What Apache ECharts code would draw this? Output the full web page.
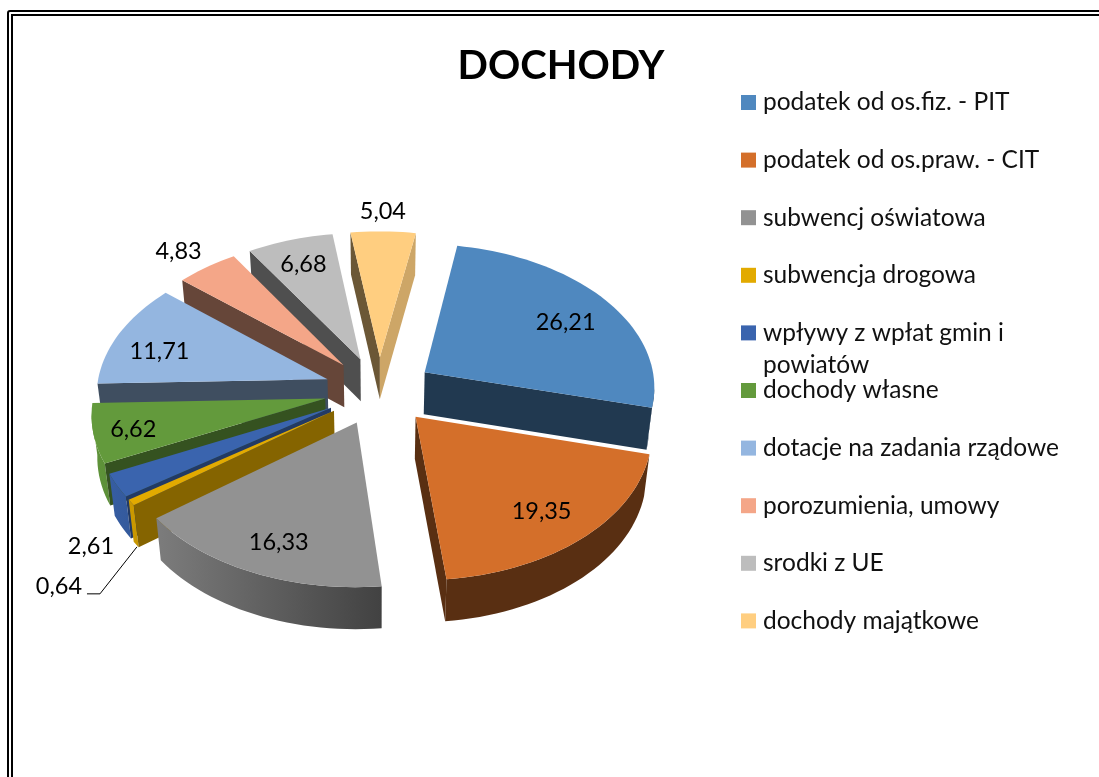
<!DOCTYPE html>
<html>
<head>
<meta charset="utf-8">
<style>
  html, body { margin: 0; padding: 0; background: #fff; }
  #chart { width: 1099px; height: 777px; }
</style>
<script src="https://cdn.jsdelivr.net/npm/echarts@6/dist/echarts.min.js"></script>
</head>
<body>
<div id="chart"></div>
<script>
const names = [
  'podatek od os.fiz. - PIT',
  'podatek od os.praw. - CIT',
  'subwencj oświatowa',
  'subwencja drogowa',
  'wpływy z wpłat gmin i\npowiatów',
  'dochody własne',
  'dotacje na zadania rządowe',
  'porozumienia, umowy',
  'srodki z UE',
  'dochody majątkowe'
];
const values = [26.21, 19.35, 16.33, 0.64, 2.61, 6.62, 11.71, 4.83, 6.68, 5.04];
const colors = ['#4f88bf', '#d46f2a', '#929292', '#e2aa00', '#3a64ae', '#639a3c', '#94b6e0', '#f4a688', '#bdbdbd', '#ffce80'];

// label position relative to the tip of each slice, in px
const labelOffsets = [[141, -50], [126, 95], [-78, 120], [-275, 176], [-240, 139], [-192, 31], [-168, -28], [-165, -114], [-57, -95], [3, -146]];

// fake 3D pie
const cx = 379, cy = 390.5, radius = 231, explode = 55;
const tilt = 0.62, persp = 0.0004, depth = 42, bottomScale = 0.98, firstAngle = 10;
const total = values.reduce((a, b) => a + b, 0);
const font = 'Lato, sans-serif';

function project(x, y) {
  const s = 1 / (1 + persp * y);
  return [cx + x * s, cy - tilt * y * s];
}

function shade(hex, f) {
  const n = parseInt(hex.slice(1), 16);
  const c = [n >> 16, (n >> 8) & 255, n & 255].map(v => Math.round(v * f));
  return `rgb(${c[0]},${c[1]},${c[2]})`;
}

function sliceAngles(i) {
  const before = values.slice(0, i).reduce((a, b) => a + b, 0);
  const a1 = firstAngle + before / total * 360;
  return [a1, a1 + values[i] / total * 360];
}

function sliceGeometry(i) {
  const [a1, a2] = sliceAngles(i);
  const mid = (a1 + a2) / 2 * Math.PI / 180;
  const ox = explode * Math.sin(mid), oy = explode * Math.cos(mid);
  const arc = [];
  const steps = Math.max(2, Math.ceil((a2 - a1) / 2));
  for (let k = 0; k <= steps; k++) {
    const a = (a1 + (a2 - a1) * k / steps) * Math.PI / 180;
    arc.push(project(ox + radius * Math.sin(a), oy + radius * Math.cos(a)));
  }
  return { tip: project(ox, oy), arc, oy };
}

// the underside is a bit further from the camera
const down = p => [cx + (p[0] - cx) * bottomScale, p[1] + depth];

function cutFace(from, to, color) {
  if (to[0] - from[0] >= 0) return null;
  const dx = to[0] - from[0], dy = to[1] - from[1];
  const nx = dy / Math.sqrt(dx * dx + dy * dy);
  const f = nx > 0 ? 0.42 + 0.4 * nx : 0.42;
  return { type: 'polygon', shape: { points: [from, to, down(to), down(from)] }, style: { fill: shade(color, f) } };
}

function renderSlice(i) {
  const { tip, arc } = sliceGeometry(i);
  const color = colors[i];
  const children = [];

  // outer wall, only the runs that face the viewer
  const wallFill = new echarts.graphic.LinearGradient(100, 0, 400, 0, [
    { offset: 0, color: shade(color, 0.95) },
    { offset: 1, color: shade(color, 0.42) }
  ], true);
  let run = [];
  const flush = () => {
    if (run.length > 1) {
      children.push({ type: 'polygon', shape: { points: run.concat(run.map(down).reverse()) }, style: { fill: wallFill } });
    }
    run = [];
  };
  for (let k = 0; k < arc.length - 1; k++) {
    if (arc[k + 1][0] < arc[k][0]) {
      if (!run.length) run.push(arc[k]);
      run.push(arc[k + 1]);
    } else {
      flush();
    }
  }
  flush();

  [cutFace(tip, arc[0], color), cutFace(arc[arc.length - 1], tip, color)].forEach(f => f && children.push(f));
  children.push({ type: 'polygon', shape: { points: [tip].concat(arc) }, style: { fill: color } });

  children.push({
    type: 'text',
    z2: 10,
    style: {
      text: values[i].toFixed(2).replace('.', ','),
      x: tip[0] + labelOffsets[i][0],
      y: tip[1] + labelOffsets[i][1],
      align: 'center',
      verticalAlign: 'middle',
      fill: '#000',
      font: '23.5px ' + font
    }
  });

  // leader line of the smallest slice
  if (values[i] === Math.min(...values)) {
    children.push({
      type: 'polyline',
      shape: { points: [[tip[0] - 247, tip[1] + 183], [tip[0] - 234, tip[1] + 183], [tip[0] - 197, tip[1] + 136]] },
      style: { stroke: '#000', lineWidth: 1, fill: null }
    });
  }
  return { type: 'group', children };
}

const chart = echarts.init(document.getElementById('chart'));
chart.setOption({
  animation: false,
  backgroundColor: '#fff',
  title: {
    text: 'DOCHODY',
    left: 556,
    top: 41,
    textAlign: 'center',
    textStyle: { fontFamily: font, fontSize: 40, fontWeight: 'bold', color: '#000' }
  },
  legend: names.map((name, i) => ({
    data: [name],
    left: 741,
    top: 102.5 + 57.6 * i - (name.includes('\n') ? 48 : 16),
    padding: 0,
    icon: 'rect',
    itemWidth: 15,
    itemHeight: 15,
    selectedMode: false,
    formatter: n => (n.includes('\n') ? '\n' + n : n),
    textStyle: { fontFamily: font, fontSize: 24.5, lineHeight: 32, color: '#111', padding: [0, 0, 0, 2] }
  })),
  graphic: [
    { type: 'rect', shape: { x: 8, y: 11, width: 1300, height: 1000, r: 2 }, style: { fill: 'none', stroke: '#000', lineWidth: 2 } },
    { type: 'rect', shape: { x: 12, y: 15, width: 1300, height: 1000 }, style: { fill: 'none', stroke: '#000', lineWidth: 2 } }
  ],
  series: names.map((name, i) => ({
    type: 'custom',
    name,
    coordinateSystem: 'none',
    silent: true,
    // slices further back go first
    z: 10 - sliceGeometry(i).oy / 100,
    itemStyle: { color: colors[i] },
    data: [values[i]],
    renderItem: () => renderSlice(i)
  }))
});
</script>
</body>
</html>
